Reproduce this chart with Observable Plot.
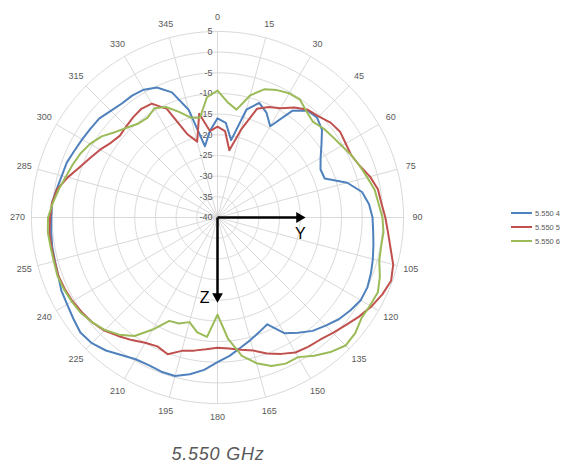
<!DOCTYPE html>
<html><head><meta charset="utf-8">
<script src="https://cdn.jsdelivr.net/npm/d3@7"></script>
<script src="https://cdn.jsdelivr.net/npm/@observablehq/plot@0.6"></script>
<style>
body{margin:0;background:#fff;}
#wrap{position:relative;width:570px;height:467px;overflow:hidden;font-family:"Liberation Sans",Arial,sans-serif;}
#wrap svg.plot{position:absolute;left:0;top:0;}
#legend{position:absolute;left:509px;top:205px;}
#title{position:absolute;left:0;width:436px;top:444px;text-align:center;font-style:italic;font-size:18px;color:#595959;letter-spacing:0.8px;}
</style></head><body>
<div id="wrap"><div id="legend"></div><div id="title">5.550 GHz</div></div>
<script>
// ---- data ----
const angles = [0,5,10,15,20,25,30,35,40,45,50,55,60,65,70,75,80,85,90,95,100,105,110,115,120,125,130,135,140,145,150,155,160,165,170,175,180,185,190,195,200,205,210,215,220,225,230,235,240,245,250,255,260,265,270,275,280,285,290,295,300,305,310,315,320,325,330,335,340,345,350,355];
const seriesNames = ["5.550 4", "5.550 5", "5.550 6"];
const seriesColors = ["#4F81BD", "#C0504D", "#9BBB59"];
const values4 = [-16,-17,-21,-13,-10.5,-12,-14.5,-8.5,-6.2,-5.9,-7,-9.3,-11.2,-12.5,-12.4,-7.5,-4.5,-3.2,-2.5,-2.2,-1.7,-1.1,-0.5,0,0,-0.8,-1.7,-3,-4.2,-6,-7.7,-11.5,-10.5,-9.3,-8,-6.4,-5,-3,-1.5,-0.3,-0.3,-0.6,-0.4,0.6,2,3,3.3,2.6,2,1.7,1,0.7,0.6,0.4,0.2,0.2,-0.5,-1,-1.2,-1.8,-2.2,-2.5,-2.7,-3.5,-4,-4,-4.3,-5.3,-7.8,-13,-22.5,-19];
const values5 = [-18,-19,-23.5,-18,-12,-10.5,-9.5,-7.5,-6,-5.4,-4.3,-3.8,-4.2,-4.3,-3.4,-1.8,-0.6,-0.2,0.6,1.4,2.5,4,4.7,4,3,1.8,0.5,-0.5,-1.4,-1.8,-2.3,-3.6,-5,-6.7,-7.5,-8.2,-8.5,-8,-7.3,-6.6,-4.8,-5.6,-5,-3.8,-2.6,-1.3,-0.5,0,0.5,0.8,1,0.8,0.8,0.8,0.5,0.2,-0.6,-2.5,-4.5,-6,-7.2,-8.5,-9.2,-8.8,-8.3,-7.9,-8.2,-11,-18.5,-21,-14.5,-19];
const values6 = [-9.3,-12,-13.5,-9.4,-7,-6,-5.3,-5.2,-6.5,-7.3,-6.5,-6,-5.3,-4.3,-3.4,-2.5,-1.4,-0.9,-0.1,0.3,0.2,0.5,1.8,2.8,2.6,2.5,3.5,3.8,2.5,0.8,-1,-1,-1.8,-3.5,-6,-10.5,-16.5,-11,-11.8,-13.8,-12.7,-12.4,-8.7,-5,-3,-1.5,-0.5,0.3,0.7,1,1.2,1,1,1.2,1,0,-1,-2,-2.7,-3.4,-4.4,-5.8,-7.8,-9.2,-10.3,-10.5,-9.5,-10.5,-12.8,-15,-15.5,-10.8];
const levels = [-40,-35,-30,-25,-20,-15,-10,-5,0,5];
const spokeAngles = [0,15,30,45,60,75,90,105,120,135,150,165,180,195,210,225,240,255,270,285,300,315,330,345];
const axisArrows = [
  {name: "Y", angle: 90, level: -20.2, labelAngle: 101, labelLevel: -19.6},
  {name: "Z", angle: 180, level: -20.9, labelAngle: 189, labelLevel: -20.2}
];
// ---- chart ----
const minLevel = -40, maxLevel = 5;
const lon = a => 180 - a;
const lat = v => 90 - (v - minLevel);
const allValues = [values4, values5, values6];
const rows = [];
seriesNames.forEach((name, i) => angles.forEach((a, j) => rows.push({series: name, angle: a, value: allValues[i][j]})));
const labelLevel = 8.4;
const grid = "#d9d9d9";
const txt = "#595959";

const chart = Plot.plot({
  width: 570, height: 467,
  margin: 0,
  insetLeft: 31, insetRight: 167, insetTop: 31, insetBottom: 64,
  style: {fontFamily: "'Liberation Sans', Arial, sans-serif", fontSize: "9px", background: "white", overflow: "visible"},
  projection: {type: "azimuthal-equidistant", rotate: [0, -90], clip: false, domain: d3.geoCircle().center([0, 90]).radius(maxLevel - minLevel)()},
  color: {domain: seriesNames, range: seriesColors},
  marks: [
    Plot.geo(levels.filter(v => v > minLevel), {geometry: v => d3.geoCircle().center([0, 90]).radius(v - minLevel).precision(1)(), stroke: grid, strokeWidth: 1, fill: "none"}),
    Plot.link(spokeAngles, {x1: a => lon(a), y1: () => 90, x2: a => lon(a), y2: () => lat(maxLevel), stroke: grid, strokeWidth: 1}),
    Plot.text(spokeAngles, {x: a => lon(a), y: () => lat(labelLevel), text: a => String(a), fill: txt, fontSize: 9}),
    Plot.text(levels, {x: () => lon(0), y: v => lat(v), text: v => String(v), textAnchor: "end", dx: -5, fill: txt, fontSize: 9}),
    Plot.line(rows, {x: d => lon(d.angle), y: d => lat(d.value), z: "series", stroke: "series", strokeWidth: 2, curve: "linear-closed"}),
    Plot.link(axisArrows, {x1: d => lon(d.angle), y1: () => 90, x2: d => lon(d.angle), y2: d => lat(d.level), stroke: "#000", strokeWidth: 2.5}),
    Plot.dot(axisArrows, {x: d => lon(d.angle), y: d => lat(d.level), symbol: "triangle", r: 4, fill: "#000", rotate: d => d.angle}),
    Plot.text(axisArrows, {x: d => lon(d.labelAngle), y: d => lat(d.labelLevel), text: "name", fontSize: 16, fill: "#000"})
  ]
});
document.getElementById("wrap").appendChild(chart);

// legend
const lg = d3.select("#legend").append("svg").attr("width", 60).attr("height", 44);
const item = lg.selectAll("g").data(seriesNames).join("g").attr("transform", (d, i) => `translate(0,${8 + i * 14})`);
item.append("line").attr("x1", 2).attr("x2", 23).attr("stroke", (d, i) => seriesColors[i]).attr("stroke-width", 2);
item.append("text").attr("x", 26).attr("dy", "0.35em").attr("font-size", 7.5).attr("fill", txt).attr("font-family", "'Liberation Sans', Arial, sans-serif").text(d => d);
</script>
</body></html>
